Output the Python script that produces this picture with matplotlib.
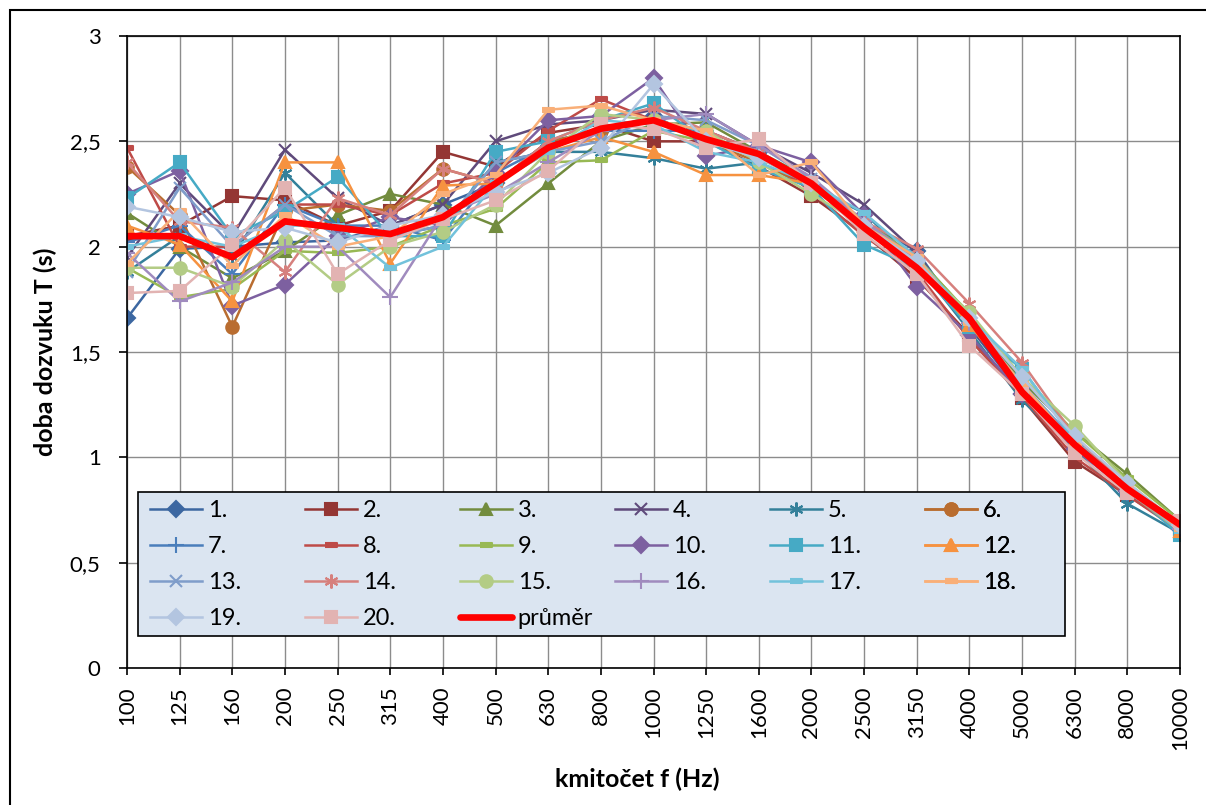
import numpy as np
import matplotlib.pyplot as plt
from matplotlib.patches import Rectangle

plt.rcParams['font.family'] = ['Lato', 'DejaVu Sans']

# kmitočty (kategorie osy x)
freq = ['100', '125', '160', '200', '250', '315', '400', '500', '630', '800', '1000',
        '1250', '1600', '2000', '2500', '3150', '4000', '5000', '6300', '8000', '10000']

# doba dozvuku T (s) pro jednotlivá měření
s1 = [1.66, 1.99, 2.00, 2.02, 2.03, 2.10, 2.20, 2.30, 2.50, 2.55, 2.62, 2.50, 2.45, 2.30, 2.12, 1.98, 1.62, 1.30, 1.05, 0.84, 0.66]
s2 = [2.05, 2.10, 2.24, 2.22, 2.10, 2.17, 2.45, 2.38, 2.54, 2.58, 2.50, 2.50, 2.38, 2.24, 2.06, 1.85, 1.58, 1.28, 0.98, 0.82, 0.66]
s3 = [2.16, 2.00, 1.85, 1.98, 2.15, 2.25, 2.20, 2.10, 2.30, 2.50, 2.58, 2.59, 2.45, 2.32, 2.12, 1.95, 1.68, 1.36, 1.12, 0.92, 0.70]
s4 = [1.95, 2.30, 2.05, 2.46, 2.23, 2.10, 2.20, 2.50, 2.58, 2.60, 2.65, 2.63, 2.48, 2.35, 2.20, 1.97, 1.62, 1.32, 1.05, 0.84, 0.66]
s5 = [1.88, 2.05, 1.95, 2.35, 2.10, 2.05, 2.10, 2.40, 2.45, 2.45, 2.42, 2.37, 2.40, 2.28, 2.16, 1.92, 1.60, 1.27, 1.04, 0.78, 0.64]
s6 = [2.38, 2.15, 1.62, 2.17, 2.20, 2.17, 2.37, 2.30, 2.50, 2.55, 2.60, 2.50, 2.40, 2.28, 2.10, 1.92, 1.63, 1.33, 1.05, 0.84, 0.66]
s7 = [2.02, 2.10, 1.87, 2.20, 2.10, 2.10, 2.03, 2.35, 2.48, 2.55, 2.55, 2.55, 2.45, 2.30, 2.12, 1.93, 1.64, 1.33, 1.06, 0.83, 0.66]
s8 = [2.47, 2.00, 2.00, 2.20, 2.20, 2.15, 2.30, 2.35, 2.55, 2.70, 2.60, 2.55, 2.45, 2.26, 2.05, 1.88, 1.56, 1.29, 1.00, 0.82, 0.65]
s9 = [1.90, 1.76, 1.80, 1.98, 1.97, 2.00, 2.10, 2.18, 2.40, 2.41, 2.55, 2.50, 2.42, 2.30, 2.12, 1.95, 1.68, 1.38, 1.12, 0.90, 0.70]
s10 = [2.25, 2.36, 1.72, 1.82, 2.05, 2.14, 2.10, 2.35, 2.60, 2.62, 2.80, 2.43, 2.48, 2.40, 2.15, 1.81, 1.58, 1.30, 1.04, 0.84, 0.66]
s11 = [2.23, 2.40, 2.05, 2.17, 2.33, 2.05, 2.05, 2.45, 2.50, 2.60, 2.68, 2.50, 2.37, 2.28, 2.01, 1.90, 1.62, 1.42, 1.08, 0.85, 0.63]
s12 = [2.10, 2.01, 1.74, 2.40, 2.40, 1.92, 2.29, 2.30, 2.45, 2.52, 2.45, 2.34, 2.34, 2.30, 2.10, 1.92, 1.63, 1.33, 1.06, 0.84, 0.65]
s13 = [1.88, 2.28, 2.00, 2.20, 2.05, 2.05, 2.10, 2.40, 2.45, 2.50, 2.62, 2.60, 2.48, 2.32, 2.12, 1.93, 1.65, 1.35, 1.08, 0.86, 0.67]
s14 = [2.40, 2.12, 2.09, 1.88, 2.23, 2.15, 2.37, 2.30, 2.50, 2.60, 2.66, 2.55, 2.45, 2.30, 2.12, 1.99, 1.73, 1.45, 1.10, 0.86, 0.67]
s15 = [1.90, 1.90, 1.81, 2.03, 1.82, 2.00, 2.07, 2.20, 2.45, 2.63, 2.60, 2.55, 2.40, 2.25, 2.10, 1.92, 1.69, 1.38, 1.15, 0.88, 0.68]
s16 = [1.97, 1.74, 1.83, 2.00, 2.00, 1.76, 2.15, 2.25, 2.40, 2.55, 2.60, 2.63, 2.48, 2.33, 2.12, 1.94, 1.64, 1.34, 1.06, 0.84, 0.66]
s17 = [2.00, 2.05, 2.00, 2.10, 2.10, 1.90, 2.00, 2.30, 2.45, 2.60, 2.58, 2.45, 2.40, 2.30, 2.16, 1.95, 1.66, 1.42, 1.08, 0.85, 0.65]
s18 = [1.92, 2.17, 1.91, 2.15, 2.00, 2.05, 2.25, 2.34, 2.65, 2.67, 2.60, 2.55, 2.34, 2.40, 2.10, 1.95, 1.64, 1.35, 1.06, 0.85, 0.66]
s19 = [2.19, 2.14, 2.07, 2.09, 2.02, 2.10, 2.15, 2.26, 2.35, 2.47, 2.77, 2.50, 2.42, 2.30, 2.10, 1.93, 1.66, 1.38, 1.10, 0.88, 0.68]
s20 = [1.78, 1.79, 2.01, 2.28, 1.87, 2.03, 2.13, 2.22, 2.36, 2.58, 2.56, 2.47, 2.51, 2.30, 2.06, 1.87, 1.53, 1.30, 1.02, 0.83, 0.70]
prumer = [2.05, 2.05, 1.95, 2.12, 2.09, 2.06, 2.14, 2.30, 2.47, 2.56, 2.60, 2.51, 2.44, 2.30, 2.09, 1.90, 1.66, 1.31, 1.06, 0.85, 0.68]

series = [s1, s2, s3, s4, s5, s6, s7, s8, s9, s10, s11, s12, s13, s14, s15, s16, s17, s18, s19, s20]
labels = [f'{i}.' for i in range(1, 21)]

colors = ['#3C67A1', '#943634', '#728C3E', '#5F4A7B', '#34809A', '#B96D30',
          '#4A7EBB', '#BE4B48', '#98B954', '#7D60A0', '#46AAC5', '#F69240',
          '#7F9DCA', '#D6807D', '#B3CC85', '#A08BBE', '#72C2DB', '#F9AF78',
          '#B3C5E0', '#E2B3B2']

# znacky jako v Excelu (cyklus po 9)
dash = [(-1, -0.4), (1, -0.4), (1, 0.4), (-1, 0.4)]
markers = ['D', 's', '^', 'x', (6, 2, 0), 'o', '+', dash, dash]
msizes = [8, 9, 9, 9, 10, 9, 11, 8, 8]

fig = plt.figure(figsize=(12.06, 8.05), dpi=100)
ax = fig.add_axes([127 / 1206, 1 - 668 / 805, 1053 / 1206, 632 / 805])

x = np.arange(len(freq))
handles = []
for i, vals in enumerate(series):
    k = i % 9
    h, = ax.plot(x, vals, color=colors[i], lw=1.8, marker=markers[k], ms=msizes[k],
                 mfc=colors[i], mec=colors[i], mew=1.5, label=labels[i], zorder=3)
    handles.append(h)
hm, = ax.plot(x, prumer, color='#FF0000', lw=4.8, label='průměr', zorder=4, solid_capstyle='round')

# osy
ax.set_xlim(0, len(freq) - 1)
ax.set_ylim(0, 3)
ax.set_xticks(x)
ax.set_xticklabels(freq, rotation=90, fontsize=16)
ax.set_yticks(np.arange(0, 3.01, 0.5))
ax.set_yticklabels(['0', '0,5', '1', '1,5', '2', '2,5', '3'], fontsize=16)
ax.tick_params(axis='y', direction='out', length=6, width=1.2, pad=13)
ax.tick_params(axis='x', direction='out', length=5, width=1.2, pad=8)
ax.grid(True, color='#8C8C8C', lw=1)
ax.set_axisbelow(True)
for sp in ax.spines.values():
    sp.set_color('black')
    sp.set_linewidth(1.2)
    sp.set_zorder(5)

fig.text(45 / 1206, 1 - 352 / 805, 'doba dozvuku T (s)', rotation=90, ha='center',
         va='center', fontsize=18, fontweight='bold')
fig.text(637 / 1206, 1 - 779 / 805, 'kmitočet f (Hz)', ha='center', va='center',
         fontsize=18, fontweight='bold')

# legenda - pozadi + 6 sloupcu
def ax_x(px):
    return (px - 127) / 1053

def ax_y(py):
    return (668 - py) / 632

ax.add_patch(Rectangle((ax_x(138), ax_y(636)), ax_x(1065) - ax_x(138), ax_y(492) - ax_y(636),
                       transform=ax.transAxes, fc='#DBE5F1', ec='black', lw=1.2, zorder=10))

cols = [[0, 6, 12, 18], [1, 7, 13, 19], [2, 8, 14, 'avg'], [3, 9, 15], [4, 10, 16], [5, 11, 17]]
col_px = [150, 305, 460, 615, 770, 925]
for c, px in zip(cols, col_px):
    hh = [hm if j == 'avg' else handles[j] for j in c]
    leg = ax.legend(handles=hh, loc='upper left', bbox_to_anchor=(ax_x(px), ax_y(500)),
                    frameon=False, borderpad=0, borderaxespad=0, handlelength=2.2,
                    handletextpad=0.25, labelspacing=0.64, fontsize=17)
    leg.set_zorder(11)
    ax.add_artist(leg)

# ramecek kolem celeho grafu
fig.add_artist(Rectangle((10 / 1206, -0.1), 1.2, 1.1 - 10 / 805, transform=fig.transFigure,
                         fill=False, ec='black', lw=1.5))

fig.savefig('out.png', dpi=100)
